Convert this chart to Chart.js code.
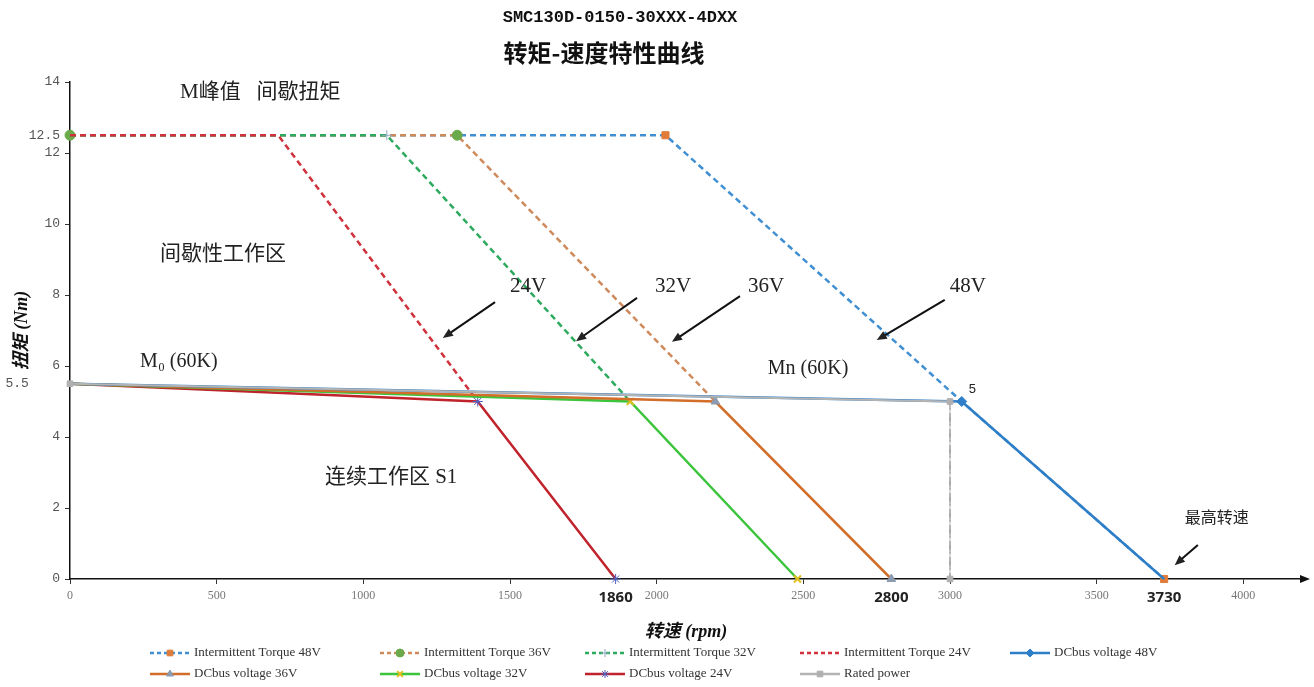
<!DOCTYPE html>
<html>
<head>
<meta charset="utf-8">
<script src="https://cdn.jsdelivr.net/npm/chart.js@4/dist/chart.umd.min.js"></script>
<style>
  html, body { margin: 0; padding: 0; background: #fff; }
</style>
</head>
<body>
<canvas id="torque-chart" width="1314" height="687"></canvas>
<script>
// torque / speed curves, SMC130D

// intermittent (peak) torque, dashed
const intSpeed48 = [0, 2030, 3040, 3730];
const intTorque48 = [12.5, 12.5, 5.0, 0];
const intSpeed36 = [0, 1320, 2200];
const intTorque36 = [12.5, 12.5, 5.0];
const intSpeed32 = [0, 1080, 1910];
const intTorque32 = [12.5, 12.5, 5.0];
const intSpeed24 = [0, 710, 1390];
const intTorque24 = [12.5, 12.5, 5.0];

// continuous torque per DC bus voltage, solid
const busSpeed48 = [0, 3040, 3730];
const busTorque48 = [5.5, 5.0, 0];
const busSpeed36 = [0, 2200, 2800];
const busTorque36 = [5.5, 5.0, 0];
const busSpeed32 = [0, 1910, 2480];
const busTorque32 = [5.5, 5.0, 0];
const busSpeed24 = [0, 1390, 1860];
const busTorque24 = [5.5, 5.0, 0];

// rated point
const ratedSpeed = [0, 3000, 3000];
const ratedTorque = [5.5, 5.0, 0];

// ticks
const xTickValues = [0, 500, 1000, 1500, 2000, 2500, 3000, 3500, 4000];
const xMarkedSpeeds = [1860, 2800, 3730];
const yTickValues = [0, 2, 4, 6, 8, 10, 12, 14];
const yMarkedTorques = [5.5, 12.5];

const serifCjk = "'Liberation Serif', 'Noto Sans CJK SC'";

function series(label, xs, ys, style) {
    return Object.assign({
        label: label,
        data: xs.map((x, i) => ({ x: x, y: ys[i] })),
        fill: false,
        tension: 0,
        borderWidth: 2.5,
        pointBorderWidth: 1,
        clip: false
    }, style);
}

// lower order is drawn on top: 24V peak line over 32V over 36V over 48V
const datasets = [
    series('Intermittent Torque 48V', intSpeed48, intTorque48, {
        borderColor: '#3f8fd2', borderDash: [6, 4], order: 4,
        pointStyle: 'rect', pointRadius: [0, 5, 0, 5],
        pointBackgroundColor: '#e07b39', pointBorderColor: '#e07b39'
    }),
    series('Intermittent Torque 36V', intSpeed36, intTorque36, {
        borderColor: '#cf8a5c', borderDash: [6, 4], order: 3,
        pointStyle: 'circle', pointRadius: [5, 5, 0],
        pointBackgroundColor: '#6aaa4a', pointBorderColor: '#6aaa4a'
    }),
    series('Intermittent Torque 32V', intSpeed32, intTorque32, {
        borderColor: '#2daa5e', borderDash: [6, 4], order: 2,
        pointStyle: 'cross', pointRadius: [0, 5, 0],
        pointBackgroundColor: '#8ea9c1', pointBorderColor: '#8ea9c1'
    }),
    series('Intermittent Torque 24V', intSpeed24, intTorque24, {
        borderColor: '#d0313a', borderDash: [6, 4], order: 1,
        pointRadius: 0
    }),
    series('DCbus voltage 48V', busSpeed48, busTorque48, {
        borderColor: '#2e7fc8',
        pointStyle: 'rectRot', pointRadius: [0, 5, 0],
        pointBackgroundColor: '#2e7fc8', pointBorderColor: '#2e7fc8'
    }),
    series('DCbus voltage 36V', busSpeed36, busTorque36, {
        borderColor: '#d26e2a',
        pointStyle: 'triangle', pointRadius: [0, 5, 5],
        pointBackgroundColor: '#8c9bb0', pointBorderColor: '#8c9bb0'
    }),
    series('DCbus voltage 32V', busSpeed32, busTorque32, {
        borderColor: '#3cc43c',
        pointStyle: 'crossRot', pointRadius: [0, 5, 5],
        pointBackgroundColor: '#e0c020', pointBorderColor: '#e0c020', pointBorderWidth: 2
    }),
    series('DCbus voltage 24V', busSpeed24, busTorque24, {
        borderColor: '#c0232c',
        pointStyle: 'star', pointRadius: [0, 5, 5],
        pointBackgroundColor: '#4f5fc0', pointBorderColor: '#4f5fc0'
    }),
    series('Rated power', ratedSpeed, ratedTorque, {
        borderColor: '#b4b4b4', borderWidth: 2,
        pointStyle: 'rect', pointRadius: 4,
        pointBackgroundColor: '#b0b0b0', pointBorderColor: '#b0b0b0',
        order: -1,
        segment: {
            borderDash: ctx => ctx.p0.parsed.x === ctx.p1.parsed.x ? [8, 3, 2, 3] : undefined,
            borderColor: ctx => ctx.p0.parsed.x === ctx.p1.parsed.x ? '#9a9a9a' : undefined,
            borderWidth: ctx => ctx.p0.parsed.x === ctx.p1.parsed.x ? 1 : undefined
        }
    })
];

// text notes and arrows, placed in data units
const notes = [
    { text: 'M峰值   间歇扭矩', x: 375, y: 13.7, size: 21 },
    { text: '间歇性工作区', x: 307, y: 9.13, size: 21 },
    { text: 'M₀ (60K)', x: 239, y: 6.11, size: 20 },
    { text: '连续工作区 S1', x: 869, y: 2.85, size: 21 },
    { text: 'Mn (60K)', x: 2379, y: 5.92, size: 20 },
    { text: '24V', x: 1500, y: 8.25, size: 21 },
    { text: '32V', x: 1994, y: 8.25, size: 21 },
    { text: '36V', x: 2311, y: 8.25, size: 21 },
    { text: '48V', x: 2999, y: 8.25, size: 21 },
    { text: '最高转速', x: 3800, y: 1.69, size: 16 }
];
const arrows = [
    [1449, 7.8, 1271, 6.79],
    [1933, 7.92, 1725, 6.70],
    [2284, 7.97, 2052, 6.68],
    [2982, 7.86, 2750, 6.73],
    [3845, 0.96, 3766, 0.39]
];

const legendCols = [150, 380, 585, 800, 1010];
const legendRows = [653, 674];

function drawMarker(ctx, ds, x, y) {
    if (!ds.pointStyle) return;
    ctx.save();
    ctx.setLineDash([]);
    ctx.fillStyle = ds.pointBackgroundColor;
    ctx.strokeStyle = ds.pointBorderColor;
    ctx.lineWidth = ds.pointBorderWidth || 1;
    if (Chart.helpers && Chart.helpers.drawPoint) {
        Chart.helpers.drawPoint(ctx, { pointStyle: ds.pointStyle, radius: 4, rotation: 0, borderWidth: ctx.lineWidth }, x, y);
    } else {
        ctx.fillRect(x - 4, y - 4, 8, 8);
    }
    ctx.restore();
}

const decorations = {
    id: 'decorations',
    afterDraw(chart) {
        const ctx = chart.ctx;
        const xs = chart.scales.x;
        const ys = chart.scales.y;
        const area = chart.chartArea;
        ctx.save();

        // header
        ctx.fillStyle = '#111';
        ctx.textAlign = 'center';
        ctx.textBaseline = 'middle';
        ctx.font = "bold 17px 'Liberation Mono'";
        ctx.fillText('SMC130D-0150-30XXX-4DXX', 620, 18);
        ctx.font = "bold 24px 'Noto Sans CJK SC'";
        ctx.fillText('转矩-速度特性曲线', 604, 53);

        // arrow at end of x axis
        ctx.fillStyle = '#111';
        ctx.beginPath();
        ctx.moveTo(area.right + 8, area.bottom);
        ctx.lineTo(area.right - 2, area.bottom - 4);
        ctx.lineTo(area.right - 2, area.bottom + 4);
        ctx.closePath();
        ctx.fill();

        // notes
        ctx.textAlign = 'left';
        ctx.fillStyle = '#222';
        notes.forEach(n => {
            ctx.font = n.size + 'px ' + serifCjk;
            ctx.fillText(n.text, xs.getPixelForValue(n.x), ys.getPixelForValue(n.y));
        });

        // value label at the 48V corner
        ctx.font = "13px 'Liberation Sans'";
        ctx.fillText('5', xs.getPixelForValue(busSpeed48[1]) + 7, ys.getPixelForValue(busTorque48[1]) - 12);

        // arrows
        ctx.strokeStyle = '#111';
        ctx.lineWidth = 2;
        arrows.forEach(a => {
            const x1 = xs.getPixelForValue(a[0]), y1 = ys.getPixelForValue(a[1]);
            const x2 = xs.getPixelForValue(a[2]), y2 = ys.getPixelForValue(a[3]);
            const ang = Math.atan2(y2 - y1, x2 - x1);
            const head = 11;
            ctx.beginPath();
            ctx.moveTo(x1, y1);
            ctx.lineTo(x2 - Math.cos(ang) * 5, y2 - Math.sin(ang) * 5);
            ctx.stroke();
            ctx.beginPath();
            ctx.moveTo(x2, y2);
            ctx.lineTo(x2 - head * Math.cos(ang - 0.4), y2 - head * Math.sin(ang - 0.4));
            ctx.lineTo(x2 - head * Math.cos(ang + 0.4), y2 - head * Math.sin(ang + 0.4));
            ctx.closePath();
            ctx.fill();
        });

        // legend, two rows in fixed columns
        chart.data.datasets.forEach((ds, i) => {
            const x0 = legendCols[i % 5];
            const y = legendRows[Math.floor(i / 5)];
            ctx.save();
            ctx.strokeStyle = ds.borderColor;
            ctx.lineWidth = 2.5;
            ctx.setLineDash(ds.borderDash ? [4, 3] : []);
            ctx.beginPath();
            ctx.moveTo(x0, y);
            ctx.lineTo(x0 + 40, y);
            ctx.stroke();
            ctx.restore();
            drawMarker(ctx, ds, x0 + 20, y);
            ctx.fillStyle = '#333';
            ctx.font = "13px 'Liberation Serif'";
            ctx.textAlign = 'left';
            ctx.fillText(ds.label, x0 + 44, y);
        });

        ctx.restore();
    }
};

const config = {
    type: 'line',
    data: { datasets: datasets },
    options: {
        responsive: false,
        animation: false,
        layout: { padding: { left: 0, right: 12, top: 82, bottom: 38 } },
        plugins: {
            legend: { display: false },
            tooltip: { enabled: false }
        },
        scales: {
            x: {
                type: 'linear',
                min: 0,
                max: 4200,
                afterBuildTicks: scale => {
                    scale.ticks = xTickValues.concat(xMarkedSpeeds).map(v => ({ value: v }));
                },
                afterFit: scale => { scale.height = 70; },
                ticks: {
                    autoSkip: false,
                    maxRotation: 0,
                    padding: 5,
                    callback: v => String(v),
                    color: ctx => xMarkedSpeeds.includes(ctx.tick && ctx.tick.value) ? '#222' : '#777',
                    font: ctx => xMarkedSpeeds.includes(ctx.tick && ctx.tick.value)
                        ? { family: "'Noto Sans'", size: 15, weight: 'bold' }
                        : { family: "'Liberation Serif'", size: 12 }
                },
                grid: {
                    drawOnChartArea: false,
                    tickLength: 5,
                    color: ctx => xMarkedSpeeds.includes(ctx.tick && ctx.tick.value) ? 'rgba(0,0,0,0)' : '#333'
                },
                border: { color: '#111', width: 1.5 },
                title: {
                    display: true,
                    text: '转速 (rpm)',
                    color: '#111',
                    font: { family: serifCjk, size: 18, weight: 'bold', style: 'italic' },
                    padding: { top: 0, bottom: 6 }
                }
            },
            y: {
                min: 0,
                max: 14,
                afterBuildTicks: scale => {
                    scale.ticks = yTickValues.concat(yMarkedTorques).map(v => ({ value: v }));
                },
                afterFit: scale => { scale.width = 70; },
                ticks: {
                    autoSkip: false,
                    padding: 5,
                    color: '#555',
                    font: { family: "'Liberation Mono'", size: 13 },
                    callback: v => v === 5.5 ? '5.5    ' : String(v)
                },
                grid: {
                    drawOnChartArea: false,
                    tickLength: 5,
                    color: ctx => yMarkedTorques.includes(ctx.tick && ctx.tick.value) ? 'rgba(0,0,0,0)' : '#333'
                },
                border: { color: '#111', width: 1.5 },
                title: {
                    display: true,
                    text: '扭矩 (Nm)',
                    color: '#111',
                    font: { family: serifCjk, size: 18, weight: 'bold', style: 'italic' },
                    padding: { top: 12, bottom: 0 }
                }
            }
        }
    },
    plugins: [decorations]
};

const torqueChart = new Chart(document.getElementById('torque-chart'), config);
</script>
</body>
</html>
